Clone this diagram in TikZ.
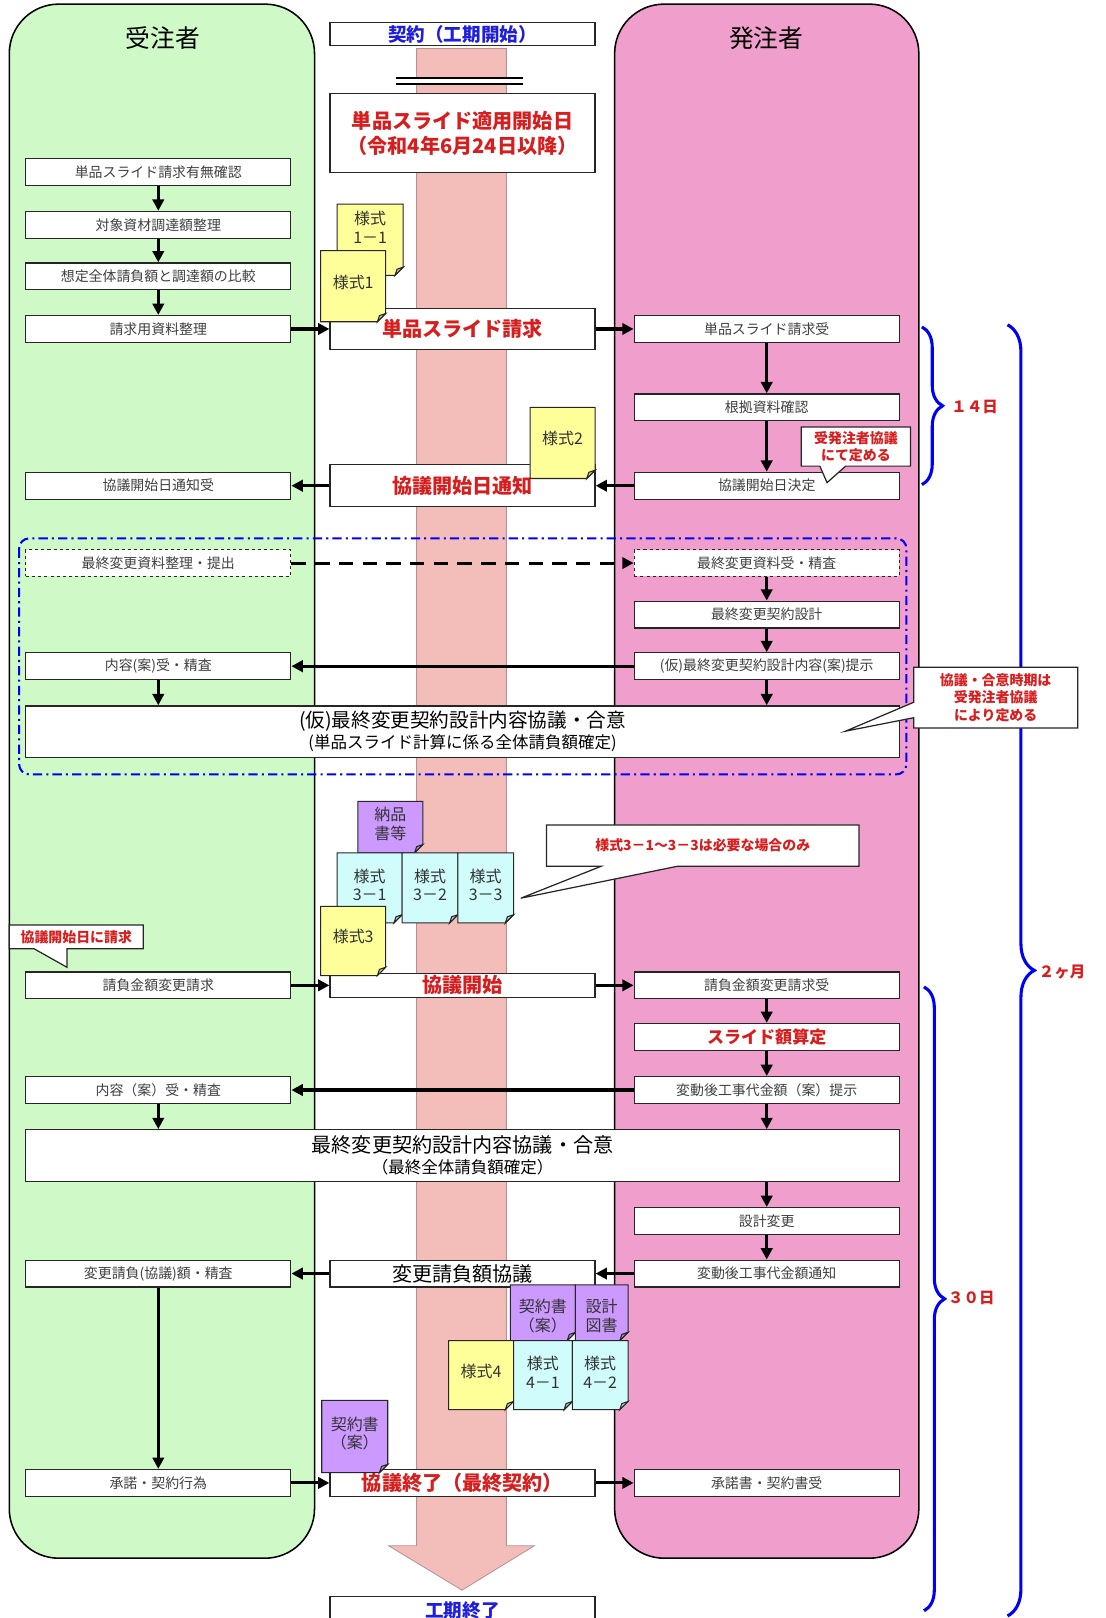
\documentclass[tikz,border=0pt]{standalone}
\usepackage{fontspec}
\setmainfont{Noto Sans CJK JP}
\usetikzlibrary{arrows.meta}
\usetikzlibrary{decorations.pathreplacing}

\definecolor{lanegreen}{RGB}{207,250,200}
\definecolor{lanepink}{RGB}{240,158,204}
\definecolor{bandpink}{RGB}{243,190,186}
\definecolor{bandedge}{RGB}{185,145,145}
\definecolor{sheetyellow}{RGB}{255,255,153}
\definecolor{sheetcyan}{RGB}{208,252,252}
\definecolor{sheetpurple}{RGB}{204,153,255}
\definecolor{txtred}{RGB}{215,30,30}
\definecolor{txtblue}{RGB}{30,30,220}
\definecolor{braceblue}{RGB}{0,0,245}

\tikzset{
  box/.style={draw=black!85, fill=white, line width=1.2pt, minimum width=257pt, minimum height=26pt, inner sep=0pt, text=black!75, font=\fontsize{13.5}{16}\selectfont},
  dbox/.style={box, dashed},
  cbox/.style={box, minimum height=40pt, text=txtred, font=\fontsize{19.5}{22}\selectfont\bfseries},
  bigbox/.style={box, minimum width=847pt, minimum height=50pt, align=center, text=black, font=\fontsize{16}{20}\selectfont},
  arr/.style={line width=3pt, -{Triangle[length=11pt,width=11pt]}},
  sheet/.style={draw=black!85, line width=1pt},
  sheettext/.style={align=center, text=black!80, font=\fontsize{15.5}{18}\selectfont},
  callout/.style={draw=black!85, fill=white, line width=1.2pt},
  calltext/.style={align=center, text=txtred, font=\fontsize{13.5}{17}\selectfont\bfseries},
  bracelabel/.style={text=txtred, font=\fontsize{15}{17}\selectfont\bfseries},
  timebrace/.style={draw=braceblue, line width=3pt, decorate}
}

% folded paper: name, left, top, right, bottom, colour, text shift, text
\newcommand{\docsheet}[8]{%
  \filldraw[sheet, fill=#6] (#2,#3) -- (#4,#3) -- (#4,#5-8) -- (#4-8,#5) -- (#2,#5) -- cycle;
  \filldraw[sheet, fill=#6!55!gray] (#4,#5-8) -- (#4-8,#5) -- (#4-6,#5-6) -- cycle;
  \node[sheettext] (#1) at ({(#2+#4)/2},{(#3+#5)/2+#7}) {#8};
}

\begin{document}
\begin{tikzpicture}[x=1pt, y=-1pt]
  \useasboundingbox (0,0) rectangle (1072,1569);

  % lanes
  \draw[fill=lanegreen, line width=1.5pt, rounded corners=48pt] (9,4) rectangle (305,1511);
  \draw[fill=lanepink, line width=1.5pt, rounded corners=48pt] (596,4) rectangle (891,1511);
  \node[font=\fontsize{24}{26}\selectfont] (contractor) at (158,37) {受注者};
  \node[font=\fontsize{24}{26}\selectfont] (client) at (743,37) {発注者};

  % period band
  \filldraw[fill=bandpink, draw=bandedge, line width=0.8pt] (404,47) -- (491,47) -- (491,1499) -- (518,1499) -- (448,1542) -- (377,1499) -- (404,1499) -- cycle;
  \fill[white] (384,76) rectangle (507,81);
  \draw[line width=2pt] (384,76) -- (507,76) (384,81) -- (507,81);

  % discussion period frame
  \draw[braceblue, line width=2pt, dash pattern=on 9pt off 4pt on 2pt off 4pt, rounded corners=10pt] (18.5,522) rectangle (879,751);

  % centre column
  \node[box, minimum height=22pt, text=txtblue, font=\fontsize{18}{20}\selectfont\bfseries] (cstart) at (448.5,33) {契約（工期開始）};
  \node[cbox, minimum height=76pt, align=center] (capply) at (448.5,129) {単品スライド適用開始日\\[2pt]（令和4年6月24日以降）};
  \node[cbox] (cclaim) at (448.5,319) {単品スライド請求};
  \node[cbox, minimum height=41pt] (cnotice) at (448.5,471) {協議開始日通知};
  \node[cbox, minimum height=23pt] (cbegin) at (448.5,955.5) {協議開始};
  \node[cbox, minimum height=26pt, text=black, font=\fontsize{19.5}{22}\selectfont] (cnegotiate) at (448.5,1235) {変更請負額協議};
  \node[cbox, minimum height=26pt] (cend) at (448.5,1438) {協議終了（最終契約）};
  \node[cbox, minimum height=28pt, text=txtblue, font=\fontsize{18}{20}\selectfont\bfseries] (cfinish) at (448.5,1562) {工期終了};

  % contractor
  \node[box] (lcheck) at (153.5,167) {単品スライド請求有無確認};
  \node[box] (lsort) at (153.5,218) {対象資材調達額整理};
  \node[box] (lcompare) at (153.5,268) {想定全体請負額と調達額の比較};
  \node[box] (lprep) at (153.5,319) {請求用資料整理};
  \node[box] (lnotice) at (153.5,471) {協議開始日通知受};
  \node[dbox] (lsubmit) at (153.5,546) {最終変更資料整理・提出};
  \node[box] (lreview) at (153.5,646) {内容(案)受・精査};
  \node[box] (lrequest) at (153.5,955.5) {請負金額変更請求};
  \node[box] (lreview2) at (153.5,1057) {内容（案）受・精査};
  \node[box] (lexamine) at (153.5,1235) {変更請負(協議)額・精査};
  \node[box] (laccept) at (153.5,1438) {承諾・契約行為};

  % client
  \node[box] (rreceive) at (743.5,319) {単品スライド請求受};
  \node[box] (rconfirm) at (743.5,395) {根拠資料確認};
  \node[box] (rdecide) at (743.5,471) {協議開始日決定};
  \node[dbox] (rcheck) at (743.5,546) {最終変更資料受・精査};
  \node[box] (rdesign) at (743.5,596) {最終変更契約設計};
  \node[box] (rpresent) at (743.5,646) {(仮)最終変更契約設計内容(案)提示};
  \node[box] (rreq) at (743.5,955.5) {請負金額変更請求受};
  \node[box, text=txtred, font=\fontsize{16.5}{18}\selectfont\bfseries] (rslide) at (743.5,1005.5) {スライド額算定};
  \node[box] (rpresent2) at (743.5,1057) {変動後工事代金額（案）提示};
  \node[box] (rchange) at (743.5,1184) {設計変更};
  \node[box] (rnotify) at (743.5,1235) {変動後工事代金額通知};
  \node[box] (raccept) at (743.5,1438) {承諾書・契約書受};

  % agreements
  \node[bigbox] (agree1) at (448.5,709.5) {{\fontsize{19}{21}\selectfont (仮)最終変更契約設計内容協議・合意}\\{(単品スライド計算に係る全体請負額確定)}};
  \node[bigbox] (agree2) at (448.5,1120.5) {{\fontsize{19.5}{21}\selectfont 最終変更契約設計内容協議・合意}\\{（最終全体請負額確定）}};

  % flow
  \draw[arr] (lcheck.south) -- (lsort.north);
  \draw[arr] (lsort.south) -- (lcompare.north);
  \draw[arr] (lcompare.south) -- (lprep.north);
  \draw[arr] (lprep.east) -- (cclaim.west);
  \draw[arr] (cclaim.east) -- (rreceive.west);
  \draw[arr] (rreceive.south) -- (rconfirm.north);
  \draw[arr] (rconfirm.south) -- (rdecide.north);
  \draw[arr] (rdecide.west) -- (cnotice.east);
  \draw[arr] (cnotice.west) -- (lnotice.east);
  \draw[arr, dash pattern=on 14pt off 9pt] (lsubmit.east) -- (rcheck.west);
  \draw[arr] (rcheck.south) -- (rdesign.north);
  \draw[arr] (rdesign.south) -- (rpresent.north);
  \draw[arr] (rpresent.west) -- (lreview.east);
  \draw[arr] (lreview.south) -- (lreview.south |- agree1.north);
  \draw[arr] (rpresent.south) -- (rpresent.south |- agree1.north);
  \draw[arr] (lrequest.east) -- (cbegin.west);
  \draw[arr] (cbegin.east) -- (rreq.west);
  \draw[arr] (rreq.south) -- (rslide.north);
  \draw[arr] (rslide.south) -- (rpresent2.north);
  \draw[arr] (rpresent2.west) -- (lreview2.east);
  \draw[arr] (lreview2.south) -- (lreview2.south |- agree2.north);
  \draw[arr] (rpresent2.south) -- (rpresent2.south |- agree2.north);
  \draw[arr] (rchange.north |- agree2.south) -- (rchange.north);
  \draw[arr] (rchange.south) -- (rnotify.north);
  \draw[arr] (rnotify.west) -- (cnegotiate.east);
  \draw[arr] (cnegotiate.west) -- (lexamine.east);
  \draw[arr] (lexamine.south) -- (laccept.north);
  \draw[arr] (laccept.east) -- (cend.west);
  \draw[arr] (cend.east) -- (raccept.west);

  % forms
  \docsheet{form11}{327}{198}{391}{267}{sheetyellow}{-12}{様式\\1－1}
  \docsheet{form1}{311}{243}{374}{312}{sheetyellow}{-4}{様式1}
  \docsheet{form2}{514}{395}{577}{464}{sheetyellow}{-4}{様式2}
  \docsheet{deliv}{347}{777}{410}{827}{sheetpurple}{-3}{納品\\書等}
  \docsheet{form31}{327}{827}{390}{895}{sheetcyan}{-3}{様式\\3－1}
  \docsheet{form32}{390}{827}{444}{895}{sheetcyan}{-3}{様式\\3－2}
  \docsheet{form33}{444}{827}{498}{895}{sheetcyan}{-3}{様式\\3－3}
  \docsheet{form3}{311}{879}{374}{946}{sheetyellow}{-4}{様式3}
  \docsheet{draft1}{495}{1246}{558}{1300}{sheetpurple}{3}{契約書\\（案）}
  \docsheet{drawings}{558}{1246}{609}{1300}{sheetpurple}{3}{設計\\図書}
  \docsheet{form4}{435}{1300}{498}{1367}{sheetyellow}{-4}{様式4}
  \docsheet{form41}{498}{1300}{555}{1367}{sheetcyan}{-3}{様式\\4－1}
  \docsheet{form42}{555}{1300}{609}{1367}{sheetcyan}{-3}{様式\\4－2}
  \docsheet{draft2}{312}{1358}{376}{1428}{sheetpurple}{-3}{契約書\\（案）}

  % periods
  \draw[timebrace, decoration={brace, amplitude=20pt}] (894,317) -- (894,470);
  \draw[timebrace, decoration={brace, amplitude=26pt}] (977,315) -- (977,1567);
  \draw[timebrace, decoration={brace, amplitude=20pt}] (896,957) -- (896,1562);
  \node[bracelabel] (days14) at (945,395) {１４日};
  \node[bracelabel] (months2) at (1030,943) {２ヶ月};
  \node[bracelabel] (days30) at (942,1259) {３０日};

  % callouts
  \draw[callout] (777,414) -- (883,414) -- (883,452) -- (820,452) -- (802,468) -- (795,452) -- (777,452) -- cycle;
  \node[calltext] (decidenote) at (830,433) {受発注者協議\\にて定める};
  \draw[callout] (886,647) -- (1045,647) -- (1045,706) -- (886,706) -- (886,696) -- (820,709) -- (886,681) -- cycle;
  \node[calltext] (timingnote) at (965.5,676.5) {協議・合意時期は\\受発注者協議\\により定める};
  \draw[callout] (530,800) -- (833,800) -- (833,840) -- (657,840) -- (505,871) -- (583,840) -- (530,840) -- cycle;
  \node[calltext] (formnote) at (681.5,820) {様式3－1～3－3は必要な場合のみ};
  \draw[callout] (9,897) -- (139,897) -- (139,920) -- (65,920) -- (65,938) -- (33,920) -- (9,920) -- cycle;
  \node[calltext] (requestnote) at (74,908.5) {協議開始日に請求};
\end{tikzpicture}
\end{document}
